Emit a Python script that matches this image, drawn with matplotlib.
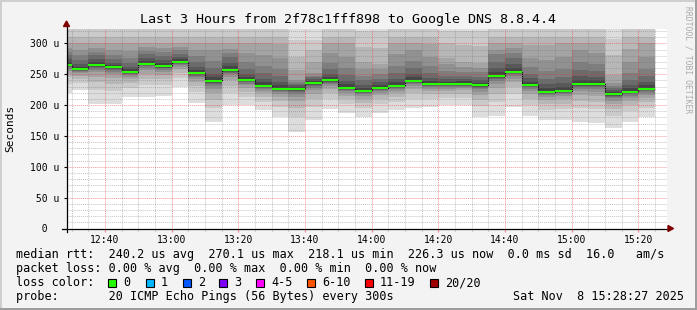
import matplotlib
matplotlib.use("Agg")
import matplotlib.pyplot as plt
from matplotlib.ticker import MultipleLocator, FuncFormatter
from matplotlib.patches import Rectangle, Polygon
from matplotlib.lines import Line2D

W, H = 697, 310
MONO = "DejaVu Sans Mono"

# end of each 5 minute step (12:28:27 .. 15:28:27 window)
step_end = ["12:30", "12:35", "12:40", "12:45", "12:50", "12:55",
            "13:00", "13:05", "13:10", "13:15", "13:20", "13:25",
            "13:30", "13:35", "13:40", "13:45", "13:50", "13:55",
            "14:00", "14:05", "14:10", "14:15", "14:20", "14:25",
            "14:30", "14:35", "14:40", "14:45", "14:50", "14:55",
            "15:00", "15:05", "15:10", "15:15", "15:20", "15:25"]

# median rtt per step (microseconds)
median_rtt = [265.3, 258.6, 265.2, 261.8, 254.0, 267.4, 263.5, 270.1, 252.2,
              239.2, 257.2, 240.6, 231.0, 226.5, 226.6, 236.0, 240.5, 227.8,
              223.0, 227.9, 231.2, 239.3, 234.1, 233.8, 234.3, 232.5, 247.5,
              254.4, 232.9, 221.9, 223.4, 234.6, 234.2, 218.1, 221.8, 226.3]

# 20 sorted ping times per step (microseconds)
pings = [
    [219, 235, 245, 251, 256, 259, 262, 263, 264, 264.6, 266, 270.1, 274.9, 282.1, 287, 293, 300, 310, 323, 420],
    [224, 236, 243, 248, 252, 254, 256, 257, 257.5, 258, 259.3, 262.6, 266.6, 272.6, 280.6, 290, 300, 310, 323, 420],
    [202, 224, 237, 246, 253, 257, 260, 262, 264, 264.5, 265.9, 270, 274.8, 282, 287, 293, 300, 310, 323, 420],
    [202, 223, 235, 244, 250, 254, 257, 259, 260.5, 261, 262.5, 265.4, 269, 274.4, 281.6, 290, 300, 310, 323, 420],
    [213.5, 228, 236, 242, 246, 249, 251, 252, 253, 253.3, 254.7, 258, 262, 268, 276, 288, 300, 310, 323, 420],
    [213.5, 232, 243, 251, 257, 260, 263, 265, 266, 266.7, 268.1, 272.2, 277, 283, 288, 294, 301, 310, 323, 420],
    [215, 232, 242, 249, 254, 257, 260, 261, 262.5, 262.8, 264.2, 268.1, 272.7, 279.6, 286, 292, 300, 310, 323, 420],
    [229.7, 244, 252, 258, 262, 265, 267, 268, 269, 269.4, 270.8, 274.1, 278.1, 283, 289, 294, 301, 310, 323, 420],
    [204, 221, 231, 238, 243, 246, 248, 250, 251, 251.5, 252.9, 257.2, 262.2, 269.7, 279.7, 290, 300, 310, 323, 420],
    [173, 196, 209, 219, 226, 231, 234, 236, 238, 238.5, 239.9, 245.2, 251.2, 260.2, 272.2, 290, 300, 310, 323, 420],
    [200, 220, 231.5, 240, 246, 250, 252.6, 254.3, 256, 256.5, 257.9, 263, 268.8, 277.5, 285, 291, 300, 310, 323, 420],
    [200, 214, 222, 228, 232.5, 235, 237.4, 238.6, 239.5, 239.9, 241.3, 245.8, 251, 258.8, 269.2, 284.8, 300, 310, 323, 420],
    [192, 205.7, 213.5, 219.3, 223.2, 226, 228, 229, 230, 230.3, 231.7, 237, 243, 252, 264, 282, 300, 310, 323, 420],
    [181, 197, 206, 213, 217.4, 220.6, 222.9, 224.2, 225.4, 225.8, 227.2, 232.3, 238.1, 246.8, 258.4, 275.8, 299, 310, 323, 420],
    [157, 181, 195, 206, 213, 217.6, 221, 223, 225, 225.9, 227.3, 229.5, 232, 235, 238, 241, 257, 278, 305, 420],
    [176.7, 197.5, 209.3, 218.2, 224, 228.3, 231.3, 233, 234.8, 235.3, 236.7, 239.5, 242, 245, 248, 252, 270, 289, 306, 420],
    [193.5, 210, 219.4, 226.4, 231, 234.4, 236.7, 238.2, 239.5, 239.8, 241.2, 245.7, 250.9, 258.7, 269.1, 284.7, 300, 310, 323, 420],
    [187, 201.3, 209.4, 215.6, 219.6, 222.5, 224.5, 225.8, 226.8, 227.1, 228.5, 233.8, 239.8, 248.8, 260.8, 278.8, 300, 310, 323, 420],
    [181, 195.7, 204.1, 210.4, 214.6, 217.5, 219.6, 220.9, 222, 222.3, 223.7, 228, 233, 240, 247, 258, 270, 295, 320, 420],
    [188, 202, 209.9, 215.9, 219.9, 222.7, 224.7, 225.9, 227, 227.2, 228.6, 232.5, 237, 243, 250, 258, 266, 292, 320, 420],
    [192, 205.7, 213.6, 219.4, 223.4, 226.1, 228.1, 229.2, 230.3, 230.5, 231.9, 237.2, 243.2, 252.2, 264.2, 282.2, 300, 310, 323, 420],
    [194.6, 210.2, 219.2, 225.9, 230.4, 233.5, 235.7, 237.1, 238.3, 238.6, 240, 245.3, 251.3, 260.3, 272.3, 290, 300, 310, 323, 420],
    [197.3, 210.2, 217.5, 223.1, 226.7, 229.3, 231.2, 232.3, 233.1, 233.4, 234.8, 239.3, 244.5, 252.3, 262.7, 278.3, 299.1, 310, 323, 420],
    [200, 211.8, 218.6, 223.7, 227, 229.4, 231.1, 232.1, 232.8, 233.1, 234.5, 238, 242, 248, 256, 266, 277, 300, 321, 420],
    [200, 212, 218.9, 224, 227.4, 229.8, 231.6, 232.6, 233.3, 233.6, 235, 238.5, 242.5, 247, 254, 262, 270, 298, 321, 420],
    [180, 198.4, 208.9, 216.8, 222, 225.7, 228.3, 229.9, 231.4, 231.8, 233.2, 236.5, 240, 246, 253, 261, 268, 296, 321, 420],
    [183, 205.6, 218.5, 228.2, 234.6, 239.1, 242.3, 244.3, 246.2, 246.8, 248.2, 253.9, 260.3, 269.9, 282.7, 290, 300, 310, 323, 420],
    [197.3, 217.3, 228.7, 237.3, 243, 247, 249.8, 251.5, 253.3, 253.7, 255.1, 260.8, 267.2, 276.8, 285, 292, 300, 310, 323, 420],
    [182, 199.8, 210, 217.6, 222.7, 226.3, 228.8, 230.4, 231.8, 232.2, 233.6, 238.1, 243.3, 251.1, 261.5, 277.1, 297.9, 310, 323, 420],
    [176.7, 192.5, 201.6, 208.3, 212.9, 216, 218.3, 219.6, 220.9, 221.2, 222.6, 227.9, 233.9, 242.9, 254.9, 272.9, 296.9, 310, 323, 420],
    [176.7, 193, 202.4, 209.4, 214.1, 217.3, 219.7, 221.1, 222.4, 222.7, 224.1, 229.8, 236.2, 245.8, 258.6, 277.8, 300, 310, 323, 420],
    [173, 194.6, 206.9, 216.1, 222.3, 226.6, 229.7, 231.5, 233.4, 233.9, 235.3, 241, 247.4, 257, 269.8, 289, 300, 310, 323, 420],
    [171, 193.1, 205.8, 215.2, 221.6, 226, 229.1, 231, 232.9, 233.5, 234.9, 240.2, 246.2, 255.2, 267.2, 285.2, 300, 310, 323, 420],
    [163, 182.3, 193.3, 201.6, 207.1, 210.9, 213.7, 215.3, 217, 217.4, 218.8, 222, 225, 228, 231, 236, 249, 281, 308, 420],
    [173, 190.1, 199.8, 207.2, 212, 215.5, 217.9, 219.4, 220.8, 221.1, 222.5, 227.4, 233, 241.4, 252.6, 269.4, 291.8, 310, 323, 420],
    [180, 196.2, 205.5, 212.4, 217, 220.3, 222.6, 224, 225.3, 225.6, 227, 232.3, 238.3, 247.3, 259.3, 277.3, 300, 310, 323, 420],
]

loss_labels = ["0", "1", "2", "3", "4-5", "6-10", "11-19", "20/20"]
loss_colors = ["#26ff00", "#00b8ff", "#0059ff", "#7e00ff", "#ff00ff", "#ff5500", "#ff0000", "#a00000"]

title = "Last 3 Hours from 2f78c1fff898 to Google DNS 8.8.4.4"
rtt_line = "median rtt:  240.2 us avg  270.1 us max  218.1 us min  226.3 us now  0.0 ms sd  16.0   am/s"
loss_line = "packet loss: 0.00 % avg  0.00 % max  0.00 % min  0.00 % now"
probe_line = "probe:       20 ICMP Echo Pings (56 Bytes) every 300s"
stamp = "Sat Nov  8 15:28:27 2025"

# window: minutes after 12:00
t_start, t_end = 28.45, 208.45
y_top = 324.3


def fx(x):
    return x / W


def fy(y):
    return 1 - y / H


def minutes(s):
    h, m = s.split(":")
    return (int(h) - 12) * 60 + int(m)


ends = [minutes(s) for s in step_end]
edges = [e - 5 for e in ends] + [ends[-1]]


def ext(v):
    return list(v) + [v[-1]]


fig = plt.figure(figsize=(W / 100, H / 100), dpi=100, facecolor="#f3f3f3")

# 3d-ish frame
fig.add_artist(Rectangle((0, 0), 1, 2 / H, transform=fig.transFigure, color="#9e9e9e", lw=0))
fig.add_artist(Rectangle((1 - 2 / W, 0), 2 / W, 1, transform=fig.transFigure, color="#9e9e9e", lw=0))
fig.add_artist(Rectangle((0, 1 - 2 / H), 1 - 2 / W, 2 / H, transform=fig.transFigure, color="#cfcfcf", lw=0))
fig.add_artist(Rectangle((0, 2 / H), 2 / W, 1 - 2 / H, transform=fig.transFigure, color="#cfcfcf", lw=0))

ax = fig.add_axes([fx(66.5), fy(228.5), 600 / W, 200 / H])
ax.set_facecolor("white")
for sp in ax.spines.values():
    sp.set_visible(False)

# smoke: nested bands, darker towards the median
for i in range(10):
    g = int(190 / 10 * (10 - (i + 1))) + 50
    lo = [p[i] for p in pings]
    hi = [p[19 - i] for p in pings]
    ax.fill_between(edges, ext(lo), ext(hi), step="post",
                    color=(g / 255, g / 255, g / 255), lw=0, zorder=1)

ax.step(edges, ext(median_rtt), where="post", color="black", lw=0.8,
        ls=(0, (1, 1)), zorder=3)
sw = y_top / 200
ax.fill_between(edges, ext([m - sw for m in median_rtt]), ext([m + sw for m in median_rtt]),
                step="post", color=loss_colors[0], lw=0, zorder=4)

ax.set_xlim(t_start, t_end)
ax.set_ylim(0, y_top)
ax.set_axisbelow(False)

ax.xaxis.set_major_locator(MultipleLocator(20))
ax.xaxis.set_minor_locator(MultipleLocator(5))
ax.yaxis.set_major_locator(MultipleLocator(50))
ax.yaxis.set_minor_locator(MultipleLocator(10))
ax.xaxis.set_major_formatter(FuncFormatter(lambda v, p: f"{12 + int(v) // 60}:{int(v) % 60:02d}"))
ax.yaxis.set_major_formatter(FuncFormatter(lambda v, p: f"{int(v):3d} u" if v else "  0"))

ax.grid(True, which="minor", color="#707070", alpha=0.4, lw=0.7, ls=(0, (1, 1)))
ax.grid(True, which="major", color="#f03030", alpha=0.5, lw=0.7, ls=(0, (1, 1)))

ax.tick_params(axis="x", which="major", length=2, width=0.8, color="#ff8080",
               pad=3, labelsize=7)
ax.tick_params(axis="x", which="minor", length=1.5, width=0.8, color="#bbbbbb")
ax.tick_params(axis="y", which="major", length=2.2, width=0.8, color="#000000",
               pad=24, labelsize=7)
ax.tick_params(axis="y", which="minor", length=0)
for lbl in ax.get_xticklabels() + ax.get_yticklabels():
    lbl.set_family(MONO)
for lbl in ax.get_yticklabels():
    lbl.set_ha("left")

# axes with arrows
fig.add_artist(Line2D([fx(62), fx(668)], [fy(228.5), fy(228.5)], color="black", lw=0.9,
                      transform=fig.transFigure, zorder=5))
fig.add_artist(Line2D([fx(66.5), fx(66.5)], [fy(232), fy(26)], color="black", lw=0.9,
                      transform=fig.transFigure, zorder=5))
fig.add_artist(Polygon([(fx(673.5), fy(228.5)), (fx(668), fy(225.5)), (fx(668), fy(231.5))],
                       closed=True, color="#800000", transform=fig.transFigure, zorder=6))
fig.add_artist(Polygon([(fx(66.5), fy(21)), (fx(63.5), fy(26.5)), (fx(69.5), fy(26.5))],
                       closed=True, color="#800000", transform=fig.transFigure, zorder=6))

fig.text(fx(348), fy(19), title, family=MONO, fontsize=9.6, ha="center", va="center")
fig.text(fx(10), fy(128), "Seconds", family=MONO, fontsize=8, rotation=90,
         ha="center", va="center")
fig.text(fx(688), fy(60), "RRDTOOL / TOBI OETIKER", family=MONO, fontsize=5.8,
         color="#aaaaaa", rotation=270, ha="center", va="center")

fs = 8.5
fig.text(fx(16), fy(258.3), rtt_line, family=MONO, fontsize=fs, va="baseline")
fig.text(fx(16), fy(272), loss_line, family=MONO, fontsize=fs, va="baseline")
fig.text(fx(16), fy(286), "loss color:", family=MONO, fontsize=fs, va="baseline")
fig.text(fx(16), fy(299.7), probe_line, family=MONO, fontsize=fs, va="baseline")
fig.text(fx(513.3), fy(299.7), stamp, family=MONO, fontsize=fs, va="baseline")

box_x = [108.3, 145.7, 182.7, 219.3, 256.3, 307, 365, 430]
for bx, lab, col in zip(box_x, loss_labels, loss_colors):
    fig.add_artist(Rectangle((fx(bx), fy(287)), 8 / W, 8 / H, transform=fig.transFigure,
                             facecolor=col, edgecolor="black", lw=0.8))
    fig.text(fx(bx + 15), fy(286), lab, family=MONO, fontsize=fs, va="baseline")

fig.savefig("out.png", dpi=100, facecolor=fig.get_facecolor())
